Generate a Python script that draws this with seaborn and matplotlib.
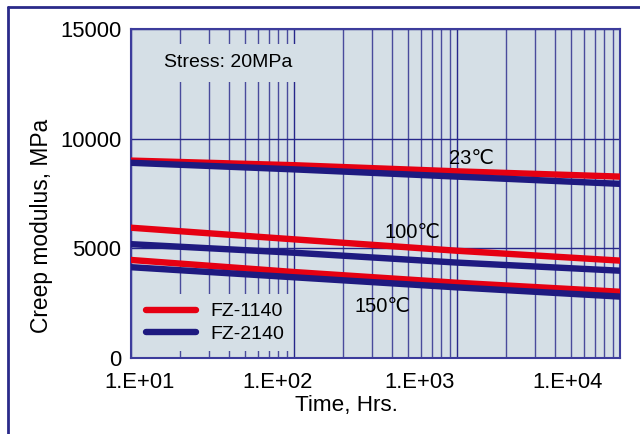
import numpy as np
import pandas as pd
import matplotlib
matplotlib.use("Agg")
import matplotlib.pyplot as plt
import matplotlib.transforms as mtransforms
from matplotlib.lines import Line2D
import seaborn as sns

# Creep modulus under 20 MPa stress, read at each decade of time
hours = [10, 100, 1000, 10000]
fz1140_23c = [9000, 8790, 8510, 8270]
fz2140_23c = [8900, 8600, 8270, 7940]
fz1140_100c = [5940, 5410, 4890, 4440]
fz2140_100c = [5190, 4800, 4350, 3980]
fz1140_150c = [4470, 3920, 3430, 3020]
fz2140_150c = [4140, 3680, 3220, 2800]

materials = ["FZ-1140", "FZ-2140"]
temp_labels = ["23℃", "100℃", "150℃"]
x_tick_values = [10, 100, 1000, 10000]
x_tick_labels = ["1.E+01", "1.E+02", "1.E+03", "1.E+04"]
y_tick_values = [0, 5000, 10000, 15000]

series = {
    ("FZ-1140", "23℃"): fz1140_23c,
    ("FZ-2140", "23℃"): fz2140_23c,
    ("FZ-1140", "100℃"): fz1140_100c,
    ("FZ-2140", "100℃"): fz2140_100c,
    ("FZ-1140", "150℃"): fz1140_150c,
    ("FZ-2140", "150℃"): fz2140_150c,
}
rows = []
for (mat, temp), vals in series.items():
    for h, v in zip(hours, vals):
        rows.append({"hours": h, "modulus": v, "material": mat, "temp": temp})
df = pd.DataFrame(rows)

RED = "#e60012"
NAVY = "#1e1a80"
BG = "#d5dfe6"
GRID = "#26268a"

sns.set_style("white")
plt.rcParams["font.family"] = ["Liberation Sans", "DejaVu Sans"]
plt.rcParams["text.color"] = "black"
plt.rcParams["axes.labelcolor"] = "black"

fig = plt.figure(figsize=(6.4, 4.34), dpi=100)
ax = fig.add_axes([131 / 640, 76 / 434, 489 / 640, 329 / 434])
ax.set_facecolor(BG)

sns.lineplot(data=df, x="hours", y="modulus", hue="material", units="temp",
             estimator=None, hue_order=materials,
             palette={"FZ-1140": RED, "FZ-2140": NAVY},
             linewidth=4.6, legend=False, ax=ax, zorder=3)

ax.set_xscale("log")
ax.set_xlim(10, 10000)
ax.set_ylim(0, 15000)

# grid: horizontal at major y ticks, vertical at every log minor step
ax.set_yticks(y_tick_values)
ax.set_yticklabels([str(v) for v in y_tick_values])
ax.set_xticks(x_tick_values)
ax.set_xticklabels(x_tick_labels)
ax.xaxis.set_minor_locator(matplotlib.ticker.LogLocator(base=10, subs=np.arange(2, 10)))
ax.xaxis.set_minor_formatter(matplotlib.ticker.NullFormatter())
ax.grid(True, which="major", axis="both", color=GRID, linewidth=1.0, zorder=0)
ax.grid(True, which="minor", axis="x", color=GRID, linewidth=1.0, alpha=0.8, zorder=0)
ax.set_axisbelow(True)

ax.tick_params(axis="both", which="both", length=0, labelsize=15.8, colors="black")
ax.tick_params(axis="y", pad=7)
ax.tick_params(axis="x", pad=10)

# horizontal offsets of the x tick labels (points)
x_label_shift = [6.5, -12, -27, -38]
for lab, dx in zip(ax.get_xticklabels(), x_label_shift):
    lab.set_transform(lab.get_transform() +
                      mtransforms.ScaledTranslation(dx / 72, 0, fig.dpi_scale_trans))

for s in ax.spines.values():
    s.set_color("#3c3c9c")
    s.set_linewidth(1.5)

ax.set_xlabel("Time, Hrs.", fontsize=16.2)
ax.set_ylabel("Creep modulus, MPa", fontsize=16.4)
ax.xaxis.set_label_coords((346 - 131) / 489, (358 - 395) / 329)
ax.yaxis.set_label_coords((53 - 131) / 489, (358 - 226) / 329)

# annotations
ax.text(39.6, 13450, "Stress: 20MPa", fontsize=14, ha="center", va="center",
        bbox=dict(boxstyle="square,pad=0.55", facecolor=BG, edgecolor="none"), zorder=2)
ax.text(1236, 9075, temp_labels[0], fontsize=14.5, ha="center", va="center", zorder=4)
ax.text(530, 5700, temp_labels[1], fontsize=14.5, ha="center", va="center", zorder=4)
ax.text(347, 2370, temp_labels[2], fontsize=14.5, ha="center", va="center", zorder=4)

handles = [Line2D([], [], color=RED, lw=4.6), Line2D([], [], color=NAVY, lw=4.6)]
leg = ax.legend(handles, materials, loc="lower left", bbox_to_anchor=(0.012, 0.02),
                fontsize=14, frameon=True, facecolor=BG, edgecolor="none",
                framealpha=1.0, fancybox=False, handlelength=2.6,
                handletextpad=0.72, labelspacing=0.24, borderpad=0.45,
                borderaxespad=0.0)
leg.set_zorder(2)

# outer frame
fig.add_artist(Line2D([8 / 640, 1.0], [1 - 7 / 434, 1 - 7 / 434],
                      transform=fig.transFigure, color="#2a2a8a", lw=2))
fig.add_artist(Line2D([8 / 640, 8 / 640], [0, 1 - 7 / 434],
                      transform=fig.transFigure, color="#2a2a8a", lw=2))

fig.savefig("out.png", dpi=100)
